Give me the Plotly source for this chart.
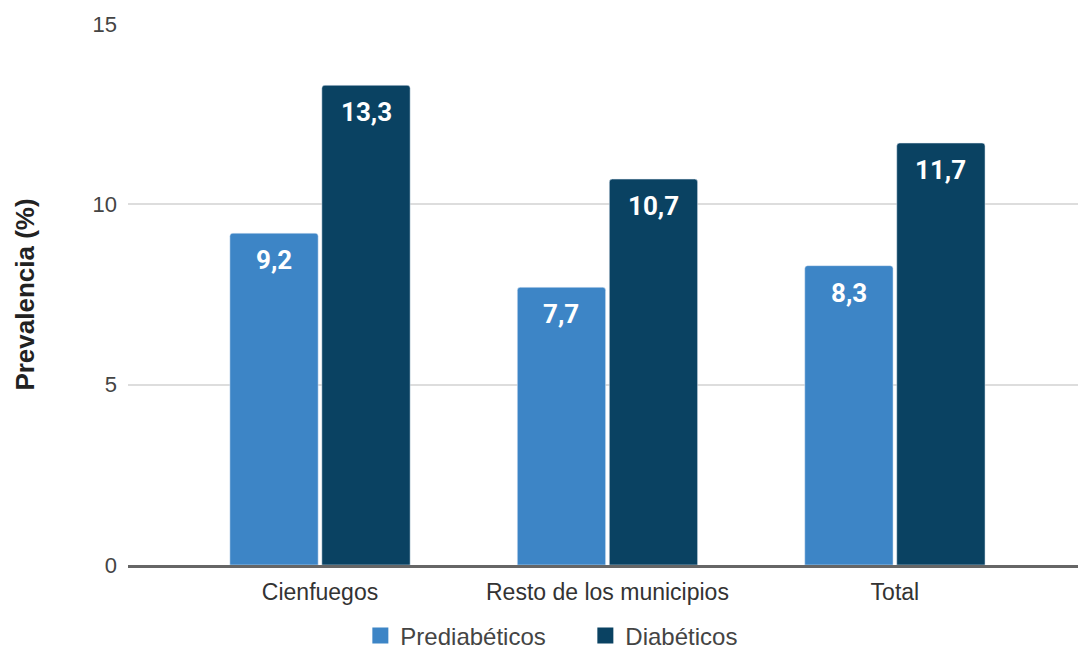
import plotly.graph_objects as go

categories = ["Cienfuegos", "Resto de los municipios", "Total"]
prediabeticos = [9.2, 7.7, 8.3]
diabeticos = [13.3, 10.7, 11.7]
y_ticks = [0, 5, 10, 15]

LIGHT = "#3d85c6"
DARK = "#0a4262"

fig = go.Figure()
fig.add_trace(go.Bar(name="Prediabéticos", x=categories, y=prediabeticos,
                     marker=dict(color=LIGHT, cornerradius=3), showlegend=False))
fig.add_trace(go.Bar(name="Diabéticos", x=categories, y=diabeticos,
                     marker=dict(color=DARK, cornerradius=3), showlegend=False))

# legend entries with larger square swatches
for name, color in (("Prediabéticos", LIGHT), ("Diabéticos", DARK)):
    fig.add_trace(go.Scatter(x=[None], y=[None], mode="markers", name=name,
                             marker=dict(symbol="square", size=19, color=color)))

# value labels just below each bar top, decimal comma
bargap, groupgap = 0.36, 0.04
slot = (1 - bargap) / 2
annotations = []
for series, shift in ((prediabeticos, -slot / 2), (diabeticos, slot / 2)):
    for i, v in enumerate(series):
        annotations.append(dict(
            x=i + shift, y=v, xref="x", yref="y",
            text=f"{v:.1f}".replace(".", ","), showarrow=False,
            yanchor="middle", yshift=-27,
            font=dict(family="Roboto", size=26, color="white", weight="bold"),
        ))

fig.update_layout(
    width=1078, height=649,
    margin=dict(l=128, r=0, t=24, b=84),
    paper_bgcolor="white", plot_bgcolor="white",
    barmode="group", bargap=bargap, bargroupgap=groupgap,
    annotations=annotations,
    font=dict(family="Liberation Sans, Arial, sans-serif", color="#444"),
    legend=dict(orientation="h", xref="container", yref="container",
                x=0.543, xanchor="center", y=13 / 649, yanchor="middle",
                font=dict(size=24, color="#444"), itemwidth=30,
                entrywidth=180, traceorder="normal"),
    xaxis=dict(range=[-0.668, 2.637], showgrid=False,
               showline=True, linecolor="#666", linewidth=2.5,
               tickfont=dict(size=23, color="#333"),
               ticks="outside", ticklen=5, tickcolor="rgba(0,0,0,0)"),
    yaxis=dict(range=[0, 15], tickvals=y_ticks, showgrid=True,
               gridcolor="#dddddd", gridwidth=2, zeroline=False,
               tickfont=dict(size=22, color="#444"), ticklabelstandoff=10,
               title=dict(text="<b>Prevalencia (%)</b>", standoff=50,
                          font=dict(size=26, color="#222"))),
)

fig.write_html("out.html")
